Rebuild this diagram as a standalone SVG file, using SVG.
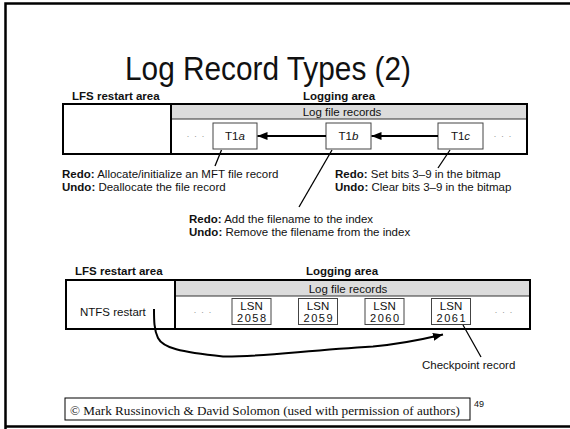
<svg xmlns="http://www.w3.org/2000/svg" width="570" height="429" viewBox="0 0 570 429">
<defs>
<marker id="ah" viewBox="0 0 10 8" refX="10" refY="4" markerWidth="10" markerHeight="8" markerUnits="userSpaceOnUse" orient="auto">
<path d="M0,0 L10,4 L0,8 Z" fill="#000"/>
</marker>
</defs>
<style>
.sans{font-family:"Liberation Sans",Arial,sans-serif;fill:#111}
.lbl{font-size:11.5px}
.hd{font-size:11.5px;font-weight:bold}
.num{font-size:11px;letter-spacing:1.5px}
.rec{fill:#fff;stroke:#444;stroke-width:1}
.outer{fill:#fff;stroke:#000;stroke-width:2}
.band{fill:#dcdcdc;stroke:#333;stroke-width:1}
.dots{font-size:9px;fill:#999;letter-spacing:1px}
.conn{stroke:#000;stroke-width:2;fill:none}
.call{stroke:#000;stroke-width:1.3;fill:none}
</style>
<rect x="0" y="0" width="570" height="429" fill="#fff"/>
<path d="M5.5,600 V3.5 H580 M5.5,426.5 H580" fill="none" stroke="#000" stroke-width="2.5"/>
<text class="sans" x="268" y="80" font-size="34" text-anchor="middle" textLength="286" lengthAdjust="spacingAndGlyphs">Log Record Types (2)</text>

<!-- top diagram -->
<g id="top-diagram">
<text class="sans hd" x="72" y="100">LFS restart area</text>
<text class="sans hd" x="339" y="100" text-anchor="middle">Logging area</text>
<rect class="outer" x="63" y="104" width="464" height="50"/>
<rect class="band" x="171" y="104" width="356" height="15"/>
<line x1="171" y1="104" x2="171" y2="154" stroke="#000" stroke-width="2"/>
<rect x="63" y="104" width="464" height="50" fill="none" stroke="#000" stroke-width="2"/>
<text class="sans lbl" x="342" y="116" text-anchor="middle">Log file records</text>
<text class="sans dots" x="196" y="139" text-anchor="middle">· · ·</text>
<text class="sans dots" x="503" y="139" text-anchor="middle">· · ·</text>
</g>
<g id="T1a">
<rect class="rec" x="213" y="123" width="44" height="26"/>
<text class="sans lbl" x="235" y="140" text-anchor="middle">T1<tspan font-style="italic">a</tspan></text>
</g>
<g id="T1b">
<rect class="rec" x="326" y="123" width="45" height="26"/>
<text class="sans lbl" x="348.5" y="140" text-anchor="middle">T1<tspan font-style="italic">b</tspan></text>
</g>
<g id="T1c">
<rect class="rec" x="438" y="123" width="45" height="26"/>
<text class="sans lbl" x="460.5" y="140" text-anchor="middle">T1<tspan font-style="italic">c</tspan></text>
</g>
<g id="notes-top">
<text class="sans lbl" x="62" y="178"><tspan font-weight="bold">Redo:</tspan> Allocate/initialize an MFT file record</text>
<text class="sans lbl" x="62" y="191"><tspan font-weight="bold">Undo:</tspan> Deallocate the file record</text>
<text class="sans lbl" x="335" y="178"><tspan font-weight="bold">Redo:</tspan> Set bits 3–9 in the bitmap</text>
<text class="sans lbl" x="335" y="191"><tspan font-weight="bold">Undo:</tspan> Clear bits 3–9 in the bitmap</text>
<text class="sans lbl" x="189" y="223"><tspan font-weight="bold">Redo:</tspan> Add the filename to the index</text>
<text class="sans lbl" x="189" y="236"><tspan font-weight="bold">Undo:</tspan> Remove the filename from the index</text>
</g>

<!-- bottom diagram -->
<g id="bottom-diagram">
<text class="sans hd" x="75" y="275">LFS restart area</text>
<text class="sans hd" x="342" y="275" text-anchor="middle">Logging area</text>
<rect class="outer" x="66" y="280" width="464" height="49"/>
<rect class="band" x="175" y="280" width="355" height="16"/>
<line x1="175" y1="280" x2="175" y2="329" stroke="#000" stroke-width="2"/>
<rect x="66" y="280" width="464" height="49" fill="none" stroke="#000" stroke-width="2"/>
<text class="sans lbl" x="348" y="292.5" text-anchor="middle">Log file records</text>
<text class="sans lbl" x="80" y="316">NTFS restart</text>
<text class="sans dots" x="203" y="315" text-anchor="middle">· · ·</text>
<text class="sans dots" x="504" y="315" text-anchor="middle">· · ·</text>
</g>
<g id="LSN2058">
<rect class="rec" x="232" y="298.5" width="39" height="26"/>
<text class="sans lbl" x="251.5" y="310" text-anchor="middle">LSN</text>
<text class="sans num" x="252.3" y="321.5" text-anchor="middle">2058</text>
</g>
<g id="LSN2059">
<rect class="rec" x="298.5" y="298.5" width="39" height="26"/>
<text class="sans lbl" x="318" y="310" text-anchor="middle">LSN</text>
<text class="sans num" x="318.8" y="321.5" text-anchor="middle">2059</text>
</g>
<g id="LSN2060">
<rect class="rec" x="365" y="298.5" width="39" height="26"/>
<text class="sans lbl" x="384.5" y="310" text-anchor="middle">LSN</text>
<text class="sans num" x="385.3" y="321.5" text-anchor="middle">2060</text>
</g>
<g id="LSN2061">
<rect class="rec" x="431.5" y="298.5" width="39" height="26"/>
<text class="sans lbl" x="451" y="310" text-anchor="middle">LSN</text>
<text class="sans num" x="451.8" y="321.5" text-anchor="middle">2061</text>
</g>
<text class="sans lbl" x="422" y="369">Checkpoint record</text>

<g id="connectors">
<line class="conn" x1="326" y1="136" x2="257.5" y2="136" marker-end="url(#ah)"/>
<line class="conn" x1="438" y1="136" x2="371.5" y2="136" marker-end="url(#ah)"/>
<line class="call" x1="221.5" y1="150" x2="215" y2="166"/>
<line class="call" x1="332" y1="150" x2="299" y2="207"/>
<line class="call" x1="450" y1="150" x2="438" y2="168"/>
<line class="call" x1="463" y1="325" x2="481" y2="357"/>
<path class="conn" d="M154,309 C154,320 154,330 158,338 C163,348 180,352 223,356.5 C260,357 300,351 373,346.5 C400,344 420,340 443,334.5" marker-end="url(#ah)"/>
</g>

<g id="footer">
<rect x="65" y="398" width="405" height="22" fill="#fff" stroke="#000" stroke-width="1"/>
<text x="70" y="415" font-family="'Liberation Serif','Times New Roman',serif" font-size="13.5" fill="#111" textLength="390" lengthAdjust="spacingAndGlyphs">© Mark Russinovich &amp; David Solomon (used with permission of authors)</text>
<text class="sans" x="474" y="407" font-size="9">49</text>
</g>
</svg>
